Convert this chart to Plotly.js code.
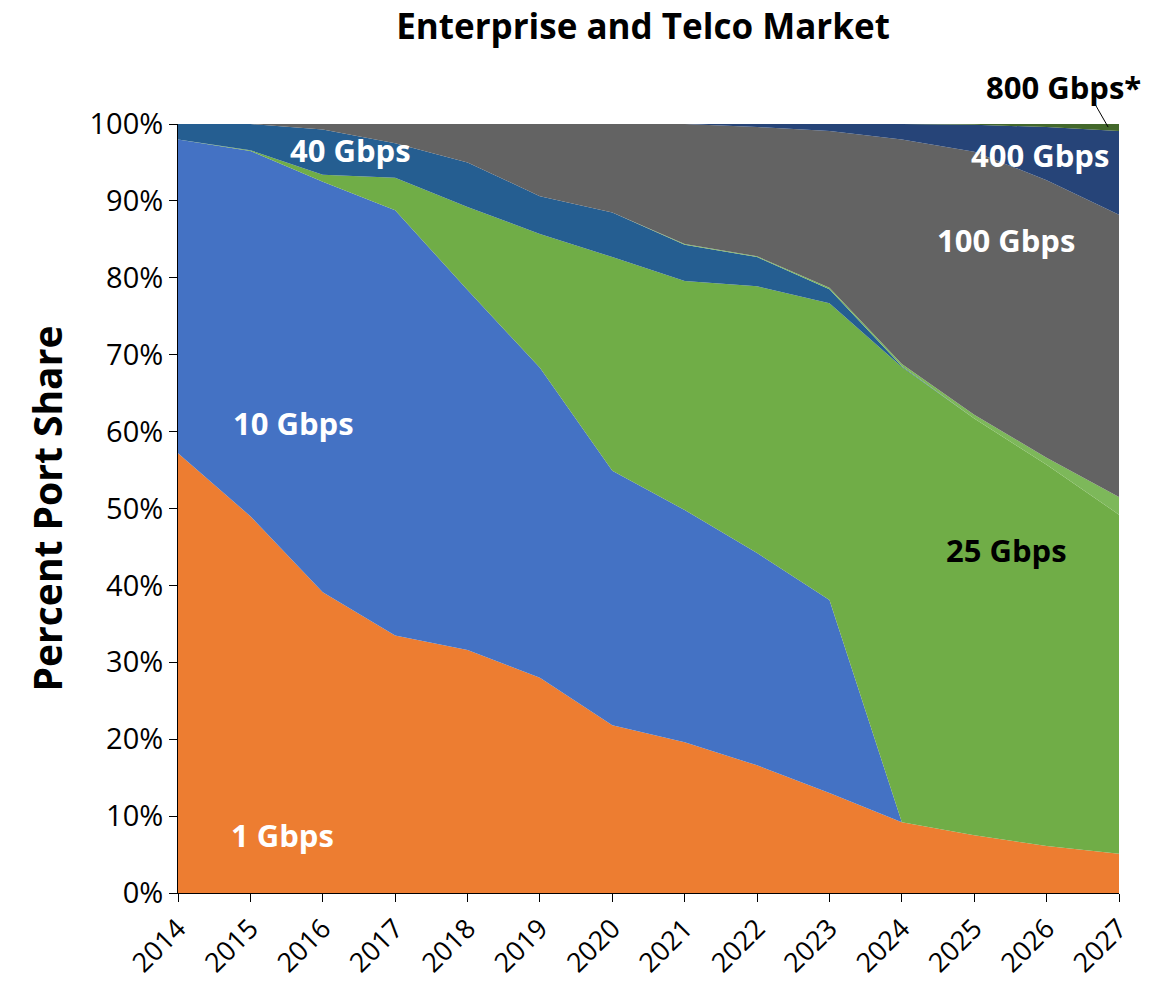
<!DOCTYPE html>
<html>
<head>
<meta charset="utf-8">
<script src="https://cdn.plot.ly/plotly-3.0.1.min.js"></script>
<style>html,body{margin:0;padding:0;background:#fff;}#chart{width:1170px;height:985px;}</style>
</head>
<body>
<div id="chart"></div>
<script>
const years = [2014,2015,2016,2017,2018,2019,2020,2021,2022,2023,2024,2025,2026,2027];
const g1   = [57.2,49.0,39.1,33.5,31.6,28.0,21.8,19.6,16.6,13.0,9.2,7.5,6.1,5.1];
const g10  = [40.8,47.5,53.4,55.3,46.8,40.3,33.1,30.2,27.6,25.1,0,0,0,0];
const g25  = [0,0.1,0.9,4.2,10.8,17.4,27.8,29.8,34.7,38.6,59.2,54.2,49.6,44.1];
const g40  = [2.0,3.4,5.9,4.5,5.8,4.9,5.8,4.7,3.8,1.8,0.1,0,0,0];
const g50  = [0,0,0,0,0,0,0,0.1,0.1,0.2,0.3,0.5,0.9,2.3];
const g100 = [0,0,0.7,2.5,5.0,9.4,11.5,15.6,16.8,20.4,29.2,34.2,36.1,36.7];
const g400 = [0,0,0,0,0,0,0,0,0.4,0.9,2.0,3.5,6.9,10.9];
const g800 = [0,0,0,0,0,0,0,0,0,0,0,0.1,0.4,0.9];
const yTicks = [0,10,20,30,40,50,60,70,80,90,100];
const yTickText = ['0%','10%','20%','30%','40%','50%','60%','70%','80%','90%','100%'];

const series = [
  {name:'1 Gbps', y:g1, color:'#ED7D31'},
  {name:'10 Gbps', y:g10, color:'#4472C4'},
  {name:'25 Gbps', y:g25, color:'#70AD47'},
  {name:'40 Gbps', y:g40, color:'#255E91'},
  {name:'50 Gbps', y:g50, color:'#7DB85A'},
  {name:'100 Gbps', y:g100, color:'#636363'},
  {name:'400 Gbps', y:g400, color:'#264478'},
  {name:'800 Gbps*', y:g800, color:'#43682B'}
];
const traces = series.map(s => ({
  type:'scatter', x:years, y:s.y, name:s.name, stackgroup:'one',
  mode:'none', fillcolor:s.color, line:{width:0}, hoverinfo:'skip'
}));

const FONT = '"Open Sans", sans-serif';
function lab(text, x, y, color){
  return {x:x, y:y, xref:'x', yref:'y', text:'<b>'+text+'</b>', showarrow:false,
    xanchor:'center', yanchor:'middle',
    font:{family:FONT, size:31, color:color}};
}
const layout = {
  width:1170, height:985,
  margin:{l:178, r:51, t:124, b:92},
  paper_bgcolor:'#fff', plot_bgcolor:'#fff',
  showlegend:false,
  hovermode:false,
  title:{text:'<b>Enterprise and Telco Market</b>', x:0.5496, xanchor:'center', y:0.9726, yanchor:'middle',
    font:{family:FONT, size:35, color:'#000'}},
  xaxis:{range:[2014,2027], tickvals:years, ticktext:years.map(String), tickangle:-45,
    showgrid:false, zeroline:false, showline:true, linecolor:'#000', linewidth:1,
    ticks:'outside', ticklen:8, tickcolor:'#000',
    tickfont:{family:FONT, size:27, color:'#000'}},
  yaxis:{range:[0,100], tickvals:yTicks, ticktext:yTickText,
    showgrid:false, zeroline:false, showline:true, linecolor:'#000', linewidth:1,
    ticks:'outside', ticklen:8, tickcolor:'#000',
    tickfont:{family:FONT, size:29, color:'#000'},
    title:{text:'<b>Percent Port Share</b>', standoff:14, font:{family:FONT, size:39, color:'#000'}}},
  annotations:[
    lab('1 Gbps', 2015.45, 7.5, '#fff'),
    lab('10 Gbps', 2015.59, 61.1, '#fff'),
    lab('40 Gbps', 2016.38, 96.6, '#fff'),
    lab('25 Gbps', 2025.44, 44.6, '#000'),
    lab('100 Gbps', 2025.44, 84.9, '#fff'),
    lab('400 Gbps', 2025.91, 96.0, '#fff'),
    {x:0.941, y:1.048, xref:'paper', yref:'paper', text:'<b>800 Gbps*</b>', showarrow:false,
     xanchor:'center', yanchor:'middle',
     font:{family:FONT, size:31, color:'#000'}},
    {x:2026.85, y:99.6, xref:'x', yref:'y', text:' ', showarrow:true, arrowhead:0,
     arrowwidth:1, arrowcolor:'#000', ax:-16, ay:-28, standoff:0, startstandoff:0}
  ]
};
Plotly.newPlot('chart', traces, layout, {displayModeBar:false, staticPlot:true});
</script>
</body>
</html>
